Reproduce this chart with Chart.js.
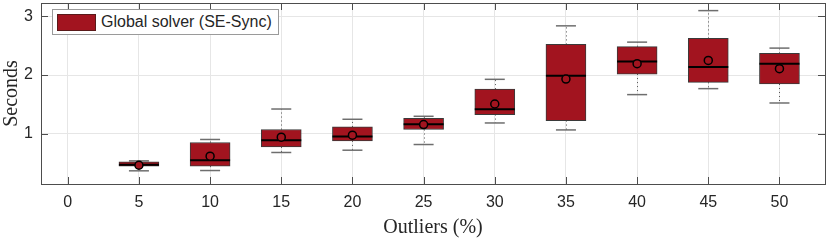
<!DOCTYPE html>
<html>
<head>
<meta charset="utf-8">
<script src="https://cdn.jsdelivr.net/npm/chart.js@4.4.1/dist/chart.umd.min.js"></script>
<style>
  body { margin: 0; background: #fff; }
  #wrap { position: relative; width: 830px; height: 240px; }
  #legend {
    position: absolute; left: 52px; top: 9px; width: 225px; height: 24px;
    border: 1px solid #9a9a9a; background: #fff;
    font: 16px "Liberation Sans", Arial, sans-serif; color: #262626;
    display: flex; align-items: center;
  }
  #legend .patch {
    width: 37px; height: 15px; margin-left: 4px; margin-right: 5px;
    background: #a2141f; border: 1px solid #5a1a1a;
  }
</style>
</head>
<body>
<div id="wrap">
  <canvas id="chart" width="830" height="240"></canvas>
  <div id="legend"><span class="patch"></span><span>Global solver (SE-Sync)</span></div>
</div>
<script>
// =========================================================================
// Data
// =========================================================================
const outlierPct = [5, 10, 15, 20, 25, 30, 35, 40, 45, 50];
const xTicks = [0, 5, 10, 15, 20, 25, 30, 35, 40, 45, 50];
const yTicks = [1, 2, 3];

const q1 = [0.445, 0.445, 0.773, 0.876, 1.07, 1.325, 1.223, 2.017, 1.876, 1.847];
const q3 = [0.518, 0.848, 1.07, 1.114, 1.262, 1.76, 2.523, 2.484, 2.625, 2.37];
const medians = [0.47, 0.547, 0.888, 0.95, 1.16, 1.416, 1.99, 2.233, 2.136, 2.194];
const means = [0.46, 0.615, 0.94, 0.973, 1.155, 1.506, 1.932, 2.194, 2.25, 2.109];
const whiskerLow = [0.365, 0.37, 0.678, 0.717, 0.814, 1.182, 1.063, 1.666, 1.768, 1.523];
const whiskerHigh = [0.535, 0.9, 1.42, 1.245, 1.296, 1.927, 2.84, 2.562, 3.1, 2.46];

const RED = "#a2141f";
const SANS = '"Liberation Sans", Arial, sans-serif';
const SERIF = '"Liberation Serif", "Times New Roman", serif';

// =========================================================================
// Plugins
// =========================================================================

// dotted whisker stems, drawn under the boxes
const whiskerStems = {
  id: "whiskerStems",
  beforeDatasetsDraw(chart) {
    const { ctx, scales: { x, y } } = chart;
    ctx.save();
    ctx.strokeStyle = "#555";
    ctx.lineWidth = 1;
    ctx.setLineDash([1, 3]);
    outlierPct.forEach((p, i) => {
      const px = Math.round(x.getPixelForValue(p)) + 0.5;
      ctx.beginPath();
      ctx.moveTo(px, y.getPixelForValue(q3[i]));
      ctx.lineTo(px, y.getPixelForValue(whiskerHigh[i]));
      ctx.moveTo(px, y.getPixelForValue(q1[i]));
      ctx.lineTo(px, y.getPixelForValue(whiskerLow[i]));
      ctx.stroke();
    });
    ctx.restore();
  },
};

// box frame with inward ticks on all four sides
const axesFrame = {
  id: "axesFrame",
  afterDraw(chart) {
    const { ctx, chartArea: a, scales: { x, y } } = chart;
    const len = 7;
    ctx.save();
    ctx.strokeStyle = "#4d4d4d";
    ctx.lineWidth = 1;
    ctx.beginPath();
    xTicks.forEach((t) => {
      const px = Math.round(x.getPixelForValue(t)) + 0.5;
      ctx.moveTo(px, a.bottom); ctx.lineTo(px, a.bottom - len);
      ctx.moveTo(px, a.top); ctx.lineTo(px, a.top + len);
    });
    yTicks.forEach((t) => {
      const py = Math.round(y.getPixelForValue(t)) + 0.5;
      ctx.moveTo(a.left, py); ctx.lineTo(a.left + len, py);
      ctx.moveTo(a.right, py); ctx.lineTo(a.right - len, py);
    });
    ctx.stroke();
    ctx.strokeRect(Math.round(a.left) + 0.5, Math.round(a.top) + 0.5,
      Math.round(a.right - a.left), Math.round(a.bottom - a.top));
    ctx.restore();
  },
};

function noPad(s) {
  s.paddingLeft = 0;
  s.paddingRight = 0;
  s.paddingTop = 0;
  s.paddingBottom = 0;
}

// =========================================================================
// Chart
// =========================================================================
new Chart(document.getElementById("chart"), {
  type: "bar",
  data: {
    datasets: [
      {
        label: "Global solver (SE-Sync)",
        data: outlierPct.map((p, i) => ({ x: p, y: [q1[i], q3[i]] })),
        backgroundColor: RED,
        borderColor: "#3a3a3a",
        borderWidth: 1,
        borderSkipped: false,
        barThickness: 40,
        order: 3,
      },
      {
        type: "line",
        label: "caps",
        data: outlierPct
          .map((p, i) => ({ x: p, y: whiskerHigh[i] }))
          .concat(outlierPct.map((p, i) => ({ x: p, y: whiskerLow[i] }))),
        showLine: false,
        pointStyle: "line",
        pointRadius: 10,
        borderColor: "#6e6e6e",
        borderWidth: 1.5,
        order: 4,
      },
      {
        type: "line",
        label: "median",
        data: outlierPct.map((p, i) => ({ x: p, y: medians[i] })),
        showLine: false,
        pointStyle: "line",
        pointRadius: 20,
        borderColor: "#000",
        borderWidth: 2,
        order: 2,
      },
      {
        type: "line",
        label: "mean",
        data: outlierPct.map((p, i) => ({ x: p, y: means[i] })),
        showLine: false,
        pointStyle: "circle",
        pointRadius: 4,
        backgroundColor: RED,
        borderColor: "#000",
        borderWidth: 1.5,
        order: 1,
      },
    ],
  },
  options: {
    responsive: false,
    animation: false,
    layout: {
      autoPadding: false,
      padding: { top: 3, right: 5, left: 0, bottom: 0 },
    },
    plugins: {
      legend: { display: false },
      tooltip: { enabled: false },
    },
    scales: {
      x: {
        type: "linear",
        offset: false,
        min: -1.88,
        max: 53.2,
        afterBuildTicks: (s) => { s.ticks = xTicks.map((v) => ({ value: v })); },
        afterFit: (s) => { s.height = 56; noPad(s); },
        grid: { color: "#e6e6e6", drawTicks: false, offset: false },
        border: { display: false },
        ticks: {
          padding: 9,
          color: "#262626",
          font: { family: SANS, size: 16 },
        },
        title: {
          display: true,
          text: "Outliers (%)",
          color: "#262626",
          font: { family: SERIF, size: 20 },
          padding: { top: 0, bottom: 0 },
        },
      },
      y: {
        min: 0.14,
        max: 3.23,
        afterBuildTicks: (s) => { s.ticks = yTicks.map((v) => ({ value: v })); },
        afterFit: (s) => { s.width = 41; noPad(s); },
        grid: { color: "#e6e6e6", drawTicks: false },
        border: { display: false },
        ticks: {
          padding: 8,
          color: "#262626",
          font: { family: SANS, size: 16 },
        },
        title: {
          display: true,
          text: "Seconds",
          color: "#262626",
          font: { family: SERIF, size: 20 },
          padding: { top: 0, bottom: 0 },
        },
      },
    },
  },
  plugins: [whiskerStems, axesFrame],
});
</script>
</body>
</html>
